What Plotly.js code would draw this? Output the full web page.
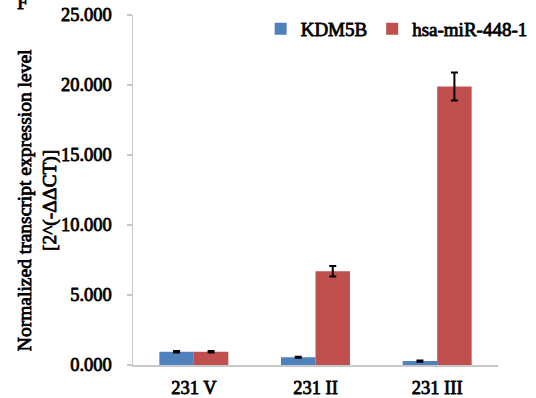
<!DOCTYPE html>
<html>
<head>
<meta charset="utf-8">
<script src="https://cdn.plot.ly/plotly-3.0.1.min.js"></script>
<style>
  html, body { margin: 0; padding: 0; background: #fff; }
  #chart { width: 536px; height: 398px; }
  /* heavier serif strokes for all chart text */
  #chart .xtick text, #chart .ytick text, #chart .legendtext, #chart .annotation-text {
    stroke: #000; stroke-width: 0.8px; stroke-linejoin: round;
  }
</style>
</head>
<body>
<div id="chart"></div>
<script>
// Cell lines on the x axis
const categories = ['231 V', '231 II', '231 III'];

// Normalized expression, 2^(-ΔΔCT), with standard error
const kdm5bValues = [0.95, 0.55, 0.28];
const kdm5bErrors = [0.05, 0.04, 0.05];
const mirValues = [0.95, 6.7, 19.9];
const mirErrors = [0.05, 0.37, 1.0];

const yTicks = [0, 5, 10, 15, 20, 25];

const serif = 'Liberation Serif';

const errStyle = (arr) => ({
  type: 'data', array: arr, visible: true,
  color: '#000', thickness: 2, width: 3.5
});

const traces = [
  {
    type: 'bar', name: 'KDM5B', x: categories, y: kdm5bValues,
    marker: { color: '#4F81BD', line: { width: 0 } },
    error_y: errStyle(kdm5bErrors)
  },
  {
    type: 'bar', name: 'hsa-miR-448-1', x: categories, y: mirValues,
    marker: { color: '#C0504D', line: { width: 0 } },
    error_y: errStyle(mirErrors)
  }
];

const layout = {
  width: 536, height: 398,
  margin: { l: 133, r: 38, t: 15, b: 33, autoexpand: false },
  paper_bgcolor: '#fff', plot_bgcolor: '#fff',
  barmode: 'group', bargap: 0.433, bargroupgap: 0,
  font: { family: serif, color: '#000' },
  showlegend: true,
  legend: {
    orientation: 'h', x: 1.095, xanchor: 'right', y: 0.96, yanchor: 'middle',
    font: { family: serif, size: 19, color: '#000' },
    bgcolor: 'rgba(0,0,0,0)', itemwidth: 30, tracegroupgap: 0
  },
  xaxis: {
    type: 'category', showgrid: false, zeroline: false,
    showline: true, linecolor: '#C8C8C8', linewidth: 1.5,
    ticks: '', ticklabelstandoff: 5,
    tickfont: { family: serif, size: 18.5, color: '#000' },
    fixedrange: true
  },
  yaxis: {
    range: [0, 25], tickvals: yTicks, tickformat: '.3f',
    showgrid: false, zeroline: false,
    showline: true, linecolor: '#C8C8C8', linewidth: 1.5,
    ticks: 'outside', ticklen: 5, tickcolor: '#C8C8C8', tickwidth: 1.5,
    ticklabelstandoff: 11,
    tickfont: { family: serif, size: 18.5, color: '#000' },
    fixedrange: true
  },
  annotations: [
    {
      text: 'Normalized transcript expression level<br>[2^(-ΔΔCT)]',
      xref: 'paper', yref: 'paper', x: 0, y: 0.471,
      xanchor: 'center', yanchor: 'middle', xshift: -96,
      textangle: -90, showarrow: false,
      font: { family: serif, size: 19.5, color: '#000' }
    },
    {
      text: 'F',
      xref: 'paper', yref: 'paper', x: 0, y: 1,
      xanchor: 'center', yanchor: 'bottom', xshift: -111, yshift: 0,
      showarrow: false,
      font: { family: serif, size: 20, color: '#000' }
    }
  ]
};

Plotly.newPlot('chart', traces, layout, { displayModeBar: false, staticPlot: true });
</script>
</body>
</html>
